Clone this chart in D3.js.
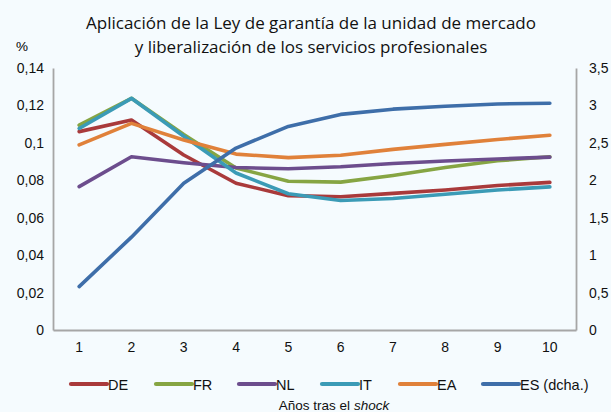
<!DOCTYPE html>
<html>
<head>
<meta charset="utf-8">
<script src="https://cdn.jsdelivr.net/npm/d3@7"></script>
<style>
  body { margin: 0; background: #f5fbfe; }
  svg { display: block; }
  text { font-family: "Liberation Sans", Arial, sans-serif; }
</style>
</head>
<body>
<svg id="chart" width="611" height="412"></svg>
<script>
// years after the shock
const years = [1, 2, 3, 4, 5, 6, 7, 8, 9, 10];

// left axis (%)
const de = [0.106, 0.1122, 0.0935, 0.0784, 0.0718, 0.0712, 0.073, 0.0748, 0.0772, 0.0789];
const fr = [0.1095, 0.1238, 0.1045, 0.0866, 0.0795, 0.079, 0.0826, 0.0868, 0.0904, 0.0926];
const nl = [0.0766, 0.0926, 0.0894, 0.0868, 0.0862, 0.0872, 0.089, 0.0903, 0.0914, 0.0924];
const it = [0.1077, 0.1238, 0.1035, 0.0839, 0.0728, 0.0692, 0.0703, 0.0725, 0.0748, 0.0765];
const ea = [0.0989, 0.1104, 0.1015, 0.094, 0.0921, 0.0934, 0.0965, 0.0992, 0.1018, 0.1041];
// right axis
const es = [0.58, 1.24, 1.96, 2.43, 2.72, 2.88, 2.95, 2.99, 3.02, 3.03];

const leftTicks = [0, 0.02, 0.04, 0.06, 0.08, 0.1, 0.12, 0.14];
const rightTicks = [0, 0.5, 1, 1.5, 2, 2.5, 3, 3.5];

const series = [
  { name: "DE", values: de, color: "#a93a3b", axis: "left" },
  { name: "FR", values: fr, color: "#86a543", axis: "left" },
  { name: "NL", values: nl, color: "#6c4d8d", axis: "left" },
  { name: "IT", values: it, color: "#3b9bb6", axis: "left" },
  { name: "EA", values: ea, color: "#e0813a", axis: "left" },
  { name: "ES (dcha.)", values: es, color: "#3e6ea9", axis: "right" },
];

const svg = d3.select("#chart");
const margin = { left: 53, right: 35, top: 68, bottom: 82 };
const W = 611, H = 412;

const x = d3.scaleBand().domain(years).range([margin.left, W - margin.right]);
const yL = d3.scaleLinear().domain([0, 0.14]).range([H - margin.bottom, margin.top]);
const yR = d3.scaleLinear().domain([0, 3.5]).range([H - margin.bottom, margin.top]);

const comma = (v) => String(+v.toFixed(2)).replace(".", ",");

// title
const titleLines = [
  "Aplicación de la Ley de garantía de la unidad de mercado",
  "y liberalización de los servicios profesionales",
];
svg.selectAll(".title")
  .data(titleLines)
  .enter()
  .append("text")
  .attr("class", "title")
  .attr("x", 311)
  .attr("y", (d, i) => 29 + i * 24)
  .attr("text-anchor", "middle")
  .style("font-family", "'Open Sans', sans-serif")
  .style("font-size", "17px")
  .attr("fill", "#111")
  .text((d) => d);

svg.append("text")
  .attr("x", 22).attr("y", 51)
  .attr("text-anchor", "middle")
  .style("font-size", "13.5px")
  .text("%");

// axes
const axisColor = "#a6a6a6";

const gL = svg.append("g")
  .attr("transform", `translate(${margin.left},0)`)
  .call(d3.axisLeft(yL).tickValues(leftTicks).tickSize(0).tickPadding(9).tickFormat(comma));
const gR = svg.append("g")
  .attr("transform", `translate(${W - margin.right},0)`)
  .call(d3.axisRight(yR).tickValues(rightTicks).tickSize(0).tickPadding(13).tickFormat(comma));
const gB = svg.append("g")
  .attr("transform", `translate(0,${H - margin.bottom})`)
  .call(d3.axisBottom(x).tickSize(0).tickPadding(12));

[gL, gR, gB].forEach((g) => {
  g.select(".domain").attr("stroke", axisColor).attr("stroke-width", 1.8);
  g.selectAll("text").style("font-size", "14px").attr("fill", "#111")
    .style("font-family", "'Liberation Sans', Arial, sans-serif");
});

// lines
series.forEach((s) => {
  const y = s.axis === "left" ? yL : yR;
  const line = d3.line()
    .x((d, i) => x(years[i]) + x.bandwidth() / 2)
    .y((d) => y(d));
  svg.append("path")
    .datum(s.values)
    .attr("d", line)
    .attr("fill", "none")
    .attr("stroke", s.color)
    .attr("stroke-width", 3.6)
    .attr("stroke-linejoin", "round")
    .attr("stroke-linecap", "round");
});

// legend
const legendX = [71, 156, 239, 322, 400, 483];
const legend = svg.append("g");
series.forEach((s, i) => {
  const lx = legendX[i];
  legend.append("line")
    .attr("x1", lx).attr("x2", lx + 36)
    .attr("y1", 384).attr("y2", 384)
    .attr("stroke", s.color).attr("stroke-width", 4.2)
    .attr("stroke-linecap", "round");
  legend.append("text")
    .attr("x", lx + 37).attr("y", 389.5)
    .style("font-size", "14.5px")
    .attr("fill", "#111")
    .text(s.name);
});

// x-axis title
const xt = svg.append("text")
  .attr("x", 334).attr("y", 410)
  .attr("text-anchor", "middle")
  .style("font-size", "13.5px")
  .attr("fill", "#111");
xt.append("tspan").text("Años tras el ");
xt.append("tspan").style("font-style", "italic").text("shock");
</script>
</body>
</html>
